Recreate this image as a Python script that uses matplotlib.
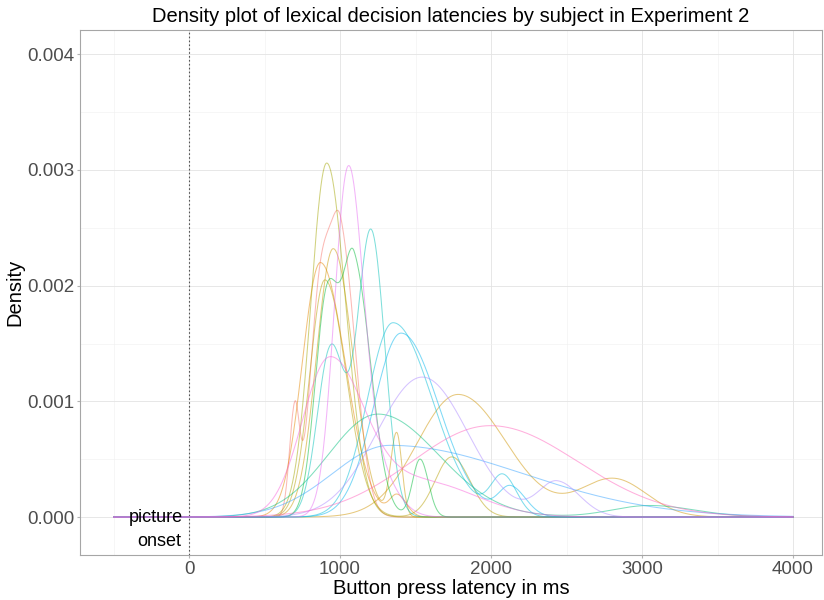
import numpy as np
import matplotlib
matplotlib.use("Agg")
import matplotlib.pyplot as plt
from matplotlib.ticker import MultipleLocator

plt.rcParams['font.family'] = ['Liberation Sans', 'DejaVu Sans']

# Per-subject density curves, each described by its visible bumps:
# bump centre (ms), bump height (density), spread left / right of the centre (ms)
subjects = ["S01", "S02", "S03", "S04", "S05", "S06", "S07", "S08",
            "S09", "S10", "S11", "S12", "S13", "S14", "S15", "S16"]
bump_center = [
    [700, 870, 1010],
    [870, 1380],
    [955, 1375],
    [1782, 2810],
    [900, 1740],
    [912],
    [915, 1095, 1530],
    [1252, 3050],
    [940, 1205],
    [1351, 2080],
    [1404, 2130],
    [1330],
    [1545, 2437],
    [1050, 1200],
    [929, 1550],
    [1995],
]
bump_height = [
    [0.0009, 0.0019, 0.0023],
    [0.0022, 0.00018],
    [0.00232, 0.00072],
    [0.00106, 0.00033],
    [0.00205, 0.00052],
    [0.00306],
    [0.0019, 0.00214, 0.0005],
    [0.00089, 0.0001],
    [0.00146, 0.00247],
    [0.00168, 0.00034],
    [0.00159, 0.00025],
    [0.00062],
    [0.00121, 0.0003],
    [0.0028, 0.0005],
    [0.00135, 0.0003],
    [0.00079],
]
bump_left = [
    [35, 70, 70],
    [120, 50],
    [110, 40],
    [270, 220],
    [100, 110],
    [105],
    [80, 75, 50],
    [330, 250],
    [90, 90],
    [170, 80],
    [180, 80],
    [380],
    [300, 120],
    [90, 120],
    [180, 300],
    [520],
]
bump_right = [
    [30, 70, 95],
    [165, 60],
    [130, 35],
    [320, 220],
    [140, 120],
    [125],
    [80, 110, 55],
    [400, 300],
    [90, 91],
    [260, 90],
    [250, 100],
    [880],
    [300, 150],
    [95, 140],
    [230, 350],
    [580],
]
x_from, x_to = -500, 4000

colors = ["#F8766D", "#E58700", "#C99800", "#CF9400", "#B79F00", "#A3A500",
          "#00BA38", "#00BF7D", "#00C0B8", "#00BCD8", "#00B5EE", "#35A2FF",
          "#AC88FF", "#E76BF3", "#FA62DB", "#FF62BC"]


def split_bump(x, c, h, sl, sr):
    s = np.where(x < c, sl, sr)
    return h * np.exp(-0.5 * ((x - c) / s) ** 2)


fig = plt.figure(figsize=(8.24, 6.0), dpi=100)
ax = fig.add_axes([80 / 824, 45 / 600, 742 / 824, 525 / 600])

x = np.linspace(x_from, x_to, 1200)
for i, name in enumerate(subjects):
    y = np.zeros_like(x)
    for c, h, sl, sr in zip(bump_center[i], bump_height[i], bump_left[i], bump_right[i]):
        y += split_bump(x, c, h, sl, sr)
    ax.plot(x, y, color=colors[i], lw=0.75, alpha=0.5, label=name, zorder=3)

# picture onset marker
ax.axvline(0, color="#555555", lw=0.8, ls=(0, (1.5, 2)), zorder=2)
ax.text(-42, 0.0, "picture", ha="right", va="center", fontsize=13, color="black")
ax.text(-52, -0.00021, "onset", ha="right", va="center", fontsize=13, color="black")

ax.set_xlim(-722, 4192)
ax.set_ylim(-0.000328, 0.00421)
ax.xaxis.set_major_locator(MultipleLocator(1000))
ax.xaxis.set_minor_locator(MultipleLocator(500))
ax.yaxis.set_major_locator(MultipleLocator(0.001))
ax.yaxis.set_minor_locator(MultipleLocator(0.0005))
ax.yaxis.set_major_formatter(plt.FuncFormatter(lambda v, p: f"{v:.3f}"))

ax.grid(which="major", color="#E3E3E3", lw=0.6, zorder=0)
ax.grid(which="minor", color="#EFEFEF", lw=0.4, zorder=0)
ax.set_axisbelow(True)
for sp in ax.spines.values():
    sp.set_color("#A6A6A6")
    sp.set_linewidth(0.8)
ax.tick_params(which="major", length=2.5, color="#B3B3B3", labelsize=13.5,
               labelcolor="#4D4D4D", pad=1.5)
ax.tick_params(which="minor", length=0)

ax.set_xlabel("Button press latency in ms", fontsize=14.5, labelpad=1)
ax.set_ylabel("Density", fontsize=14.5, labelpad=2)
ax.set_title("Density plot of lexical decision latencies by subject in Experiment 2",
             fontsize=14.5, pad=6)

fig.savefig("out.png", dpi=100)
